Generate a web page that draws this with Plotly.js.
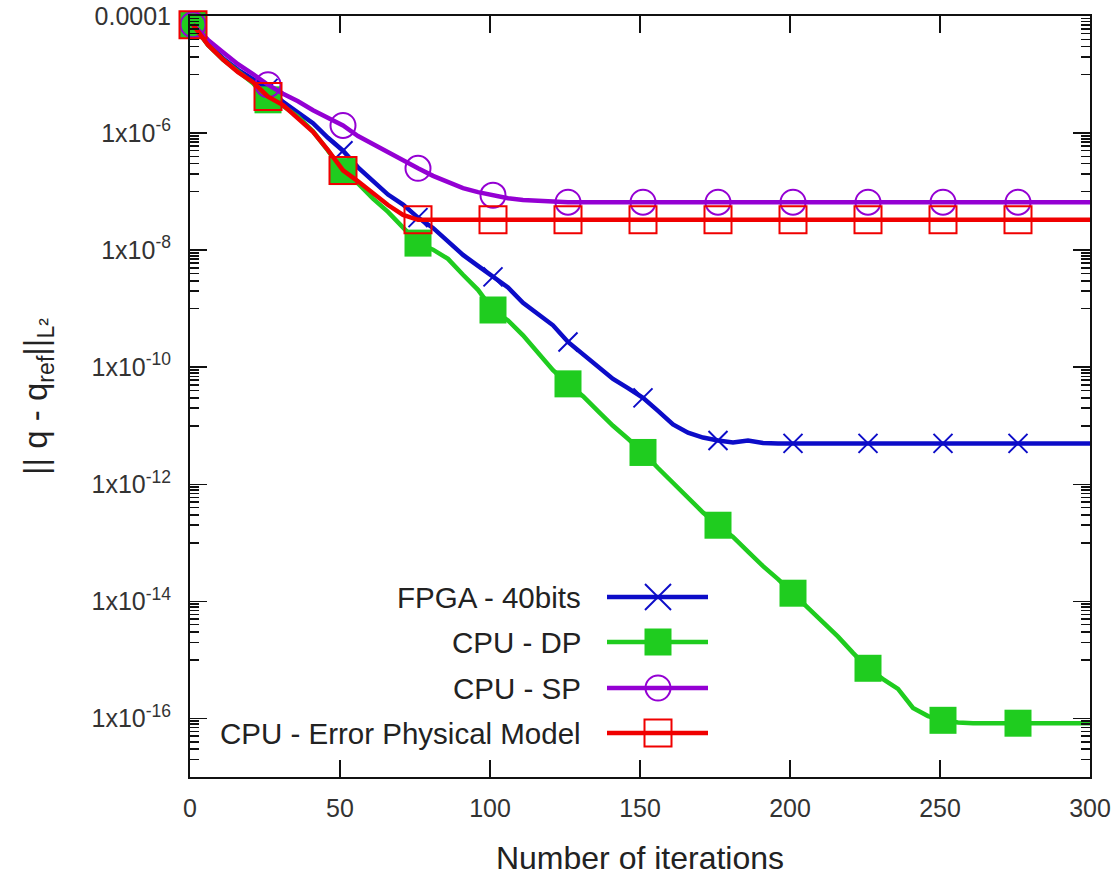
<!DOCTYPE html>
<html>
<head>
<meta charset="utf-8">
<script src="https://cdn.plot.ly/plotly-3.0.1.min.js"></script>
<style>
html,body{margin:0;padding:0;background:#fff;}
#chart{width:1112px;height:876px;}
</style>
</head>
<body>
<div id="chart"></div>
<script>
// ---------------- data ----------------
const iterations = [1,6,11,16,21,26,31,36,41,46,51,56,61,66,71,76,81,86,91,96,
  101,106,111,116,121,126,131,136,141,146,151,156,161,166,171,176,181,186,191,196,
  201,206,211,216,221,226,231,236,241,246,251,256,261,266,271,276,281,286,291,296,300];

const fpga40bits = [7.1e-5,3.3e-5,1.9e-5,1.2e-5,8.3e-6,5.8e-6,3.4e-6,2.2e-6,1.48e-6,8.3e-7,
  5.0e-7,2.6e-7,1.5e-7,8.9e-8,6.0e-8,3.6e-8,2.4e-8,1.4e-8,8.3e-9,5.4e-9,
  3.5e-9,2.3e-9,1.26e-9,8.3e-10,5.2e-10,2.7e-10,1.66e-10,1.05e-10,6.3e-11,4.4e-11,
  3.0e-11,1.8e-11,1.05e-11,7.6e-12,6.3e-12,5.6e-12,5.2e-12,5.6e-12,5.1e-12,5.0e-12,
  5.0e-12,5.0e-12,5.0e-12,5.0e-12,5.0e-12,5.0e-12,5.0e-12,5.0e-12,5.0e-12,5.0e-12,
  5.0e-12,5.0e-12,5.0e-12,5.0e-12,5.0e-12,5.0e-12,5.0e-12,5.0e-12,5.0e-12,5.0e-12,5.0e-12];

const cpuDP = [7.1e-5,3.2e-5,1.8e-5,1.1e-5,7.1e-6,3.7e-6,2.9e-6,1.9e-6,1.07e-6,5.0e-7,
  2.2e-7,1.38e-7,7.6e-8,4.5e-8,2.5e-8,1.32e-8,1.02e-8,7.1e-9,3.8e-9,2.1e-9,
  9.5e-10,6.3e-10,3.5e-10,1.78e-10,8.9e-11,5.2e-11,3.2e-11,1.78e-11,1.0e-11,6.0e-12,
  3.5e-12,1.9e-12,1.05e-12,6.0e-13,3.3e-13,2.0e-13,1.26e-13,7.1e-14,4.0e-14,2.4e-14,
  1.38e-14,7.9e-15,4.6e-15,2.5e-15,1.32e-15,7.2e-16,4.7e-16,3.2e-16,1.51e-16,1.1e-16,
  9.3e-17,8.5e-17,8.3e-17,8.3e-17,8.3e-17,8.3e-17,8.3e-17,8.3e-17,8.3e-17,8.3e-17,8.3e-17];

const cpuSP = [7.1e-5,3.9e-5,2.4e-5,1.5e-5,1.02e-5,6.7e-6,4.7e-6,3.5e-6,2.45e-6,1.86e-6,
  1.35e-6,8.9e-7,6.5e-7,4.6e-7,3.3e-7,2.5e-7,1.86e-7,1.45e-7,1.15e-7,9.8e-8,
  8.7e-8,7.7e-8,7.2e-8,6.9e-8,6.7e-8,6.6e-8,6.6e-8,6.6e-8,6.6e-8,6.6e-8,
  6.6e-8,6.6e-8,6.6e-8,6.6e-8,6.6e-8,6.6e-8,6.6e-8,6.6e-8,6.6e-8,6.6e-8,
  6.6e-8,6.6e-8,6.6e-8,6.6e-8,6.6e-8,6.6e-8,6.6e-8,6.6e-8,6.6e-8,6.6e-8,
  6.6e-8,6.6e-8,6.6e-8,6.6e-8,6.6e-8,6.6e-8,6.6e-8,6.6e-8,6.6e-8,6.6e-8,6.6e-8];

const cpuErrorModel = [7.1e-5,3.2e-5,1.8e-5,1.1e-5,7.4e-6,4.2e-6,3.0e-6,1.8e-6,1.05e-6,5.1e-7,
  2.3e-7,1.5e-7,9.5e-8,5.9e-8,4.0e-8,3.3e-8,3.3e-8,3.3e-8,3.3e-8,3.3e-8,
  3.3e-8,3.3e-8,3.3e-8,3.3e-8,3.3e-8,3.3e-8,3.3e-8,3.3e-8,3.3e-8,3.3e-8,
  3.3e-8,3.3e-8,3.3e-8,3.3e-8,3.3e-8,3.3e-8,3.3e-8,3.3e-8,3.3e-8,3.3e-8,
  3.3e-8,3.3e-8,3.3e-8,3.3e-8,3.3e-8,3.3e-8,3.3e-8,3.3e-8,3.3e-8,3.3e-8,
  3.3e-8,3.3e-8,3.3e-8,3.3e-8,3.3e-8,3.3e-8,3.3e-8,3.3e-8,3.3e-8,3.3e-8,3.3e-8];

const seriesNames = ['FPGA - 40bits', 'CPU - DP', 'CPU - SP', 'CPU - Error Physical Model'];
const xTickVals = [0, 50, 100, 150, 200, 250, 300];
const yTickVals = [1e-4, 1e-6, 1e-8, 1e-10, 1e-12, 1e-14, 1e-16];
const yTickText = ['0.0001', '1x10<sup>-6</sup>', '1x10<sup>-8</sup>', '1x10<sup>-10</sup>',
  '1x10<sup>-12</sup>', '1x10<sup>-14</sup>', '1x10<sup>-16</sup>'];
const xTitle = 'Number of iterations';
const yTitle = '|| q - q<sub>ref</sub>||<sub>L²</sub>';

// ---------------- styles ----------------
const seriesValues = [fpga40bits, cpuDP, cpuSP, cpuErrorModel];
const colors = ['#0c0cc8', '#1fcc1f', '#9400d3', '#f00000'];
const symbols = ['x-thin-open', 'square', 'circle-open', 'square-open'];
const sizes = [19, 27, 25, 27];
const markerLineW = [2, 0, 2, 2];
const FONT = 'Liberation Sans, Arial, sans-serif';

// markers are drawn every 25 iterations (1, 26, 51, ...)
const isMarker = it => (it - 1) % 25 === 0;

const traces = [];
seriesValues.forEach((vals, i) => {
  traces.push({
    x: iterations, y: vals, type: 'scatter', mode: 'lines', name: seriesNames[i],
    line: {color: colors[i], width: 4.5}, showlegend: false, hoverinfo: 'skip'
  });
  const mx = [], my = [];
  iterations.forEach((it, k) => { if (isMarker(it)) { mx.push(it); my.push(vals[k]); } });
  traces.push({
    x: mx, y: my, type: 'scatter', mode: 'markers', name: seriesNames[i],
    marker: {symbol: symbols[i], size: sizes[i], color: colors[i],
             line: {color: colors[i], width: markerLineW[i]}},
    cliponaxis: false, showlegend: false, hoverinfo: 'skip'
  });
});

// minor log ticks: k*10^(e-1) below each major tick
const minorVals = [];
yTickVals.forEach(v => {
  for (let k = 1; k <= 9; k++) minorVals.push(k * v / 10);
});

// ---------------- custom legend (text left, sample right) ----------------
const PL = 190, PR = 1090, PT = 16, PB = 777;
const px = p => (p - PL) / (PR - PL);
const py = p => (PB - p) / (PB - PT);
const legendRows = [597, 642, 688, 733];
const legendTextRight = 583, lineL = 607, lineR = 708, mC = 658;

const annotations = [];
const shapes = [];
seriesNames.forEach((name, i) => {
  const yy = legendRows[i];
  annotations.push({
    xref: 'paper', yref: 'paper', x: px(legendTextRight), y: py(yy),
    xanchor: 'right', yanchor: 'middle', text: name, showarrow: false,
    font: {family: FONT, size: 29.5, color: '#222'}
  });
  shapes.push({type: 'line', xref: 'paper', yref: 'paper',
    x0: px(lineL), x1: px(lineR), y0: py(yy), y1: py(yy),
    line: {color: colors[i], width: 4.5}});
  const h = sizes[i] / 2;
  if (symbols[i] === 'x-thin-open') {
    const r = 13;
    shapes.push({type: 'line', xref: 'paper', yref: 'paper', x0: px(mC - r), x1: px(mC + r),
      y0: py(yy - r), y1: py(yy + r), line: {color: colors[i], width: 2}});
    shapes.push({type: 'line', xref: 'paper', yref: 'paper', x0: px(mC - r), x1: px(mC + r),
      y0: py(yy + r), y1: py(yy - r), line: {color: colors[i], width: 2}});
  } else if (symbols[i] === 'square') {
    shapes.push({type: 'rect', xref: 'paper', yref: 'paper', x0: px(mC - h), x1: px(mC + h),
      y0: py(yy - h), y1: py(yy + h), fillcolor: colors[i], line: {width: 0}});
  } else if (symbols[i] === 'circle-open') {
    shapes.push({type: 'circle', xref: 'paper', yref: 'paper', x0: px(mC - h), x1: px(mC + h),
      y0: py(yy - h), y1: py(yy + h), fillcolor: 'rgba(0,0,0,0)', line: {color: colors[i], width: 2}});
  } else {
    shapes.push({type: 'rect', xref: 'paper', yref: 'paper', x0: px(mC - h), x1: px(mC + h),
      y0: py(yy - h), y1: py(yy + h), fillcolor: 'rgba(0,0,0,0)', line: {color: colors[i], width: 2}});
  }
});

const axisCommon = {
  ticks: 'inside', ticklen: 17, tickwidth: 1.5, tickcolor: '#111',
  showline: true, linecolor: '#111', linewidth: 2, mirror: 'ticks',
  showgrid: false, zeroline: false,
  tickfont: {family: FONT, size: 25, color: '#333'}
};

const layout = {
  width: 1112, height: 876,
  margin: {l: PL, r: 1112 - PR, t: PT, b: 876 - PB},
  paper_bgcolor: '#ffffff', plot_bgcolor: '#ffffff',
  font: {family: FONT, size: 25, color: '#222'},
  showlegend: false,
  xaxis: Object.assign({}, axisCommon, {
    range: [0, 300], tickmode: 'array', tickvals: xTickVals, ticklabelstandoff: 8,
    title: {text: xTitle, font: {family: FONT, size: 32, color: '#222'}, standoff: 26}
  }),
  yaxis: Object.assign({}, axisCommon, {
    type: 'log', range: [-17, -4], tickmode: 'array', tickvals: yTickVals, ticktext: yTickText,
    ticklabelstandoff: 12,
    minor: {tickmode: 'array', tickvals: minorVals, ticks: 'inside', ticklen: 9,
            tickwidth: 1.5, tickcolor: '#111', showgrid: false},
    title: {text: yTitle, font: {family: FONT, size: 33, color: '#222'}, standoff: 34}
  }),
  annotations: annotations,
  shapes: shapes
};

Plotly.newPlot('chart', traces, layout, {displayModeBar: false, staticPlot: true});
</script>
</body>
</html>
